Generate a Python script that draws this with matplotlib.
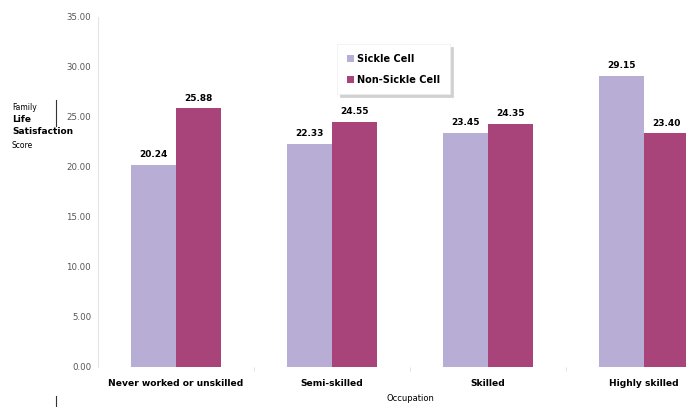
import matplotlib.pyplot as plt
import numpy as np

categories = ["Never worked or unskilled", "Semi-skilled", "Skilled", "Highly skilled"]
sickle = [20.24, 22.33, 23.45, 29.15]
non_sickle = [25.88, 24.55, 24.35, 23.40]
series_names = ["Sickle Cell", "Non-Sickle Cell"]
yticks = [0, 5, 10, 15, 20, 25, 30, 35]

c_sickle = "#b8add4"
c_non = "#a9447b"

fig = plt.figure(figsize=(6.86, 4.07), dpi=100)
# axes runs off the right edge like in the original
ax = fig.add_axes([98 / 686, 40 / 407, 624 / 686, 350 / 407])

x = np.arange(len(categories))
w = 0.29
b1 = ax.bar(x - w / 2, sickle, w, color=c_sickle, label=series_names[0])
b2 = ax.bar(x + w / 2, non_sickle, w, color=c_non, label=series_names[1])

for bars, vals in ((b1, sickle), (b2, non_sickle)):
    for r, v in zip(bars, vals):
        ax.text(r.get_x() + r.get_width() / 2, v + 0.55, f"{v:.2f}",
                ha="center", va="bottom", fontsize=6.5, fontweight="bold")

ax.set_xlim(-0.5, 3.5)
ax.set_ylim(0, 35)
ax.set_yticks(yticks)
ax.set_yticklabels([f"{t:.2f}" for t in yticks], fontsize=6.2, color="#555555")
ax.set_xticks(x)
ax.set_xticklabels(categories, fontsize=6.6, fontweight="bold")
ax.set_xticks(x[:-1] + 0.5, minor=True)
ax.tick_params(axis="x", which="major", length=0, pad=9)
ax.tick_params(axis="x", which="minor", length=3, color="#dddddd")
ax.tick_params(axis="y", length=0, pad=5)
for s in ("top", "right", "bottom"):
    ax.spines[s].set_visible(False)
ax.spines["left"].set_color("#e4e4e4")

ax.set_xlabel("Occupation", fontsize=6, labelpad=4)

fig.text(12 / 686, 1 - 108 / 407, "Family", fontsize=5.5, va="center")
fig.text(12 / 686, 1 - 120 / 407, "Life", fontsize=6.5, fontweight="bold", va="center")
fig.text(12 / 686, 1 - 132 / 407, "Satisfaction", fontsize=6.5, fontweight="bold", va="center")
fig.text(12 / 686, 1 - 145 / 407, "Score", fontsize=5.5, va="center")
fig.add_artist(plt.Line2D([56 / 686, 56 / 686], [1 - 100 / 407, 1 - 126 / 407],
                          color="#333333", lw=0.8))
fig.add_artist(plt.Line2D([56 / 686, 56 / 686], [1 - 396 / 407, 1 - 406 / 407],
                          color="#333333", lw=0.8))

leg = ax.legend(loc="upper left", bbox_to_anchor=(0.383, 0.922), fontsize=7,
                frameon=True, fancybox=False,
                shadow={"color": "#cccccc", "alpha": 0.9},
                handlelength=0.7, handleheight=0.7, handletextpad=0.4,
                borderpad=1.0, labelspacing=1.1, borderaxespad=0)
leg.get_frame().set_edgecolor("#eeeeee")
leg.get_frame().set_linewidth(0.5)
for t in leg.get_texts():
    t.set_fontweight("bold")

fig.savefig("out.png", dpi=100)
